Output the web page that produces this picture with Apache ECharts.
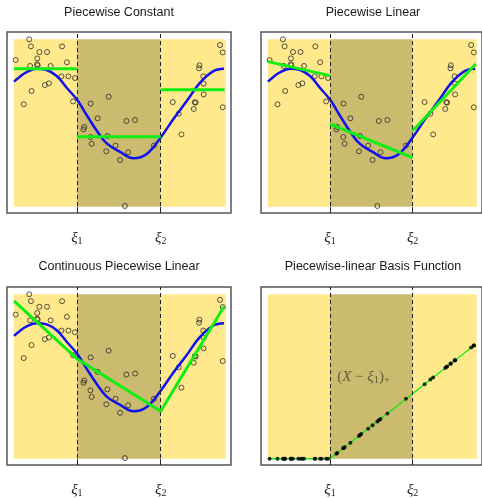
<!DOCTYPE html>
<html>
<head>
<meta charset="utf-8">
<script src="https://cdn.jsdelivr.net/npm/echarts@6/dist/echarts.min.js"></script>
<style>
  html, body { margin: 0; padding: 0; background: #ffffff; }
  #chart { width: 482px; height: 498px; }
</style>
</head>
<body>
<div id="chart"></div>
<script>
// ---------------- data ----------------
const titles = ['Piecewise Constant', 'Piecewise Linear', 'Continuous Piecewise Linear', 'Piecewise-linear Basis Function'];
const knots = [0.297, 0.693];
const knotSubscripts = ['1', '2'];

const pointX = [0.072, 0.080, 0.008, 0.120, 0.156, 0.227, 0.110, 0.109, 0.112, 0.076,
                0.173, 0.250, 0.224, 0.257, 0.288, 0.146, 0.165, 0.083, 0.046, 0.279,
                0.362, 0.447, 0.395, 0.332, 0.328, 0.361, 0.367, 0.441, 0.480, 0.436,
                0.501, 0.539, 0.531, 0.572, 0.524, 0.661, 0.750, 0.778, 0.791, 0.854,
                0.858, 0.849, 0.876, 0.874, 0.894, 0.896, 0.896, 0.973, 0.986, 0.986];
const pointY = [1.000, 0.958, 0.876, 0.924, 0.924, 0.958, 0.886, 0.851, 0.845, 0.841,
                0.841, 0.863, 0.779, 0.779, 0.769, 0.727, 0.737, 0.691, 0.612, 0.629,
                0.616, 0.657, 0.528, 0.476, 0.462, 0.416, 0.376, 0.422, 0.365, 0.331,
                0.279, 0.325, 0.512, 0.518, 0.004, 0.365, 0.625, 0.556, 0.432, 0.624,
                0.622, 0.584, 0.845, 0.827, 0.779, 0.735, 0.671, 0.966, 0.922, 0.594];
// values of the basis function (X - xi1)+ at each point
const basisY = [0, 0, 0, 0, 0, 0, 0, 0, 0, 0,
                0, 0, 0, 0, 0, 0, 0, 0, 0, 0,
                0.065, 0.150, 0.098, 0.035, 0.031, 0.064, 0.070, 0.144, 0.183, 0.139,
                0.204, 0.242, 0.234, 0.275, 0.227, 0.364, 0.453, 0.481, 0.494, 0.557,
                0.561, 0.552, 0.579, 0.577, 0.597, 0.599, 0.599, 0.676, 0.689, 0.689];

// true (blue) curve
const trueX = [0, 0.028, 0.060, 0.107, 0.154, 0.202, 0.249, 0.299, 0.343, 0.391,
               0.438, 0.501, 0.564, 0.627, 0.693, 0.753, 0.816, 0.879, 0.942, 0.992];
const trueY = [0.747, 0.777, 0.804, 0.824, 0.817, 0.781, 0.711, 0.637, 0.548, 0.454,
               0.378, 0.327, 0.289, 0.315, 0.414, 0.524, 0.631, 0.741, 0.810, 0.824];

// fitted (green) pieces
const rangeX = [0, 0.297, 0.693, 0.995];
const constLevels = [0.824, 0.418, 0.699];
const linearStart = [0.867, 0.494, 0.454];
const linearEnd = [0.783, 0.293, 0.853];
const contX = [0, 0.297, 0.693, 0.992];
const contY = [0.960, 0.608, 0.289, 0.926];
const basisLineX = [0, 0.297, 0.986];
const basisLineY = [0, 0, 0.689];

const annotation = { x: 0.458, y: 0.494 };

// ---------------- styling ----------------
const LIGHT = '#FFE98C';
const DARK = '#CBBB6E';
const BLUE = '#1010F0';
const GREEN = '#11EE11';
const zip = (xs, ys) => xs.map((x, i) => [x, ys[i]]);

const grids = [
  { left: 7, top: 32, width: 224, height: 181 },
  { left: 261, top: 32, width: 224, height: 181 },
  { left: 7, top: 287, width: 224, height: 181 },
  { left: 261, top: 287, width: 224, height: 181 }
].map(g => Object.assign(g, { show: true, borderColor: '#555', borderWidth: 1.5, backgroundColor: 'transparent' }));

const xAxes = grids.map((g, i) => ({
  type: 'value', gridIndex: i, min: -0.033, max: 1.025,
  splitLine: { show: false },
  axisLine: { show: false },
  axisTick: { show: true, customValues: knots, length: 5, inside: false, lineStyle: { color: '#333', width: 1 } },
  axisLabel: {
    show: true, customValues: knots, margin: 17,
    formatter: v => '{x|ξ}{s|' + knotSubscripts[Math.abs(v - knots[0]) < 0.01 ? 0 : 1] + '}',
    rich: {
      x: { fontFamily: '"Liberation Serif", "DejaVu Serif", serif', fontStyle: 'italic', fontSize: 15, color: '#222', lineHeight: 16, verticalAlign: 'middle' },
      s: { fontFamily: '"Liberation Serif", "DejaVu Serif", serif', fontSize: 10, color: '#222', lineHeight: 10, verticalAlign: 'bottom' }
    }
  }
}));
const yAxes = grids.map((g, i) => ({
  type: 'value', gridIndex: i, min: -0.038, max: 1.044, show: false, splitLine: { show: false }
}));

const series = [];
grids.forEach((g, i) => {
  series.push({
    type: 'line', xAxisIndex: i, yAxisIndex: i, data: [], z: 1, silent: true,
    markArea: {
      silent: true,
      data: [
        [{ xAxis: 0, yAxis: 0, itemStyle: { color: LIGHT, opacity: 1 } }, { xAxis: knots[0], yAxis: 1 }],
        [{ xAxis: knots[0], yAxis: 0, itemStyle: { color: DARK, opacity: 1 } }, { xAxis: knots[1], yAxis: 1 }],
        [{ xAxis: knots[1], yAxis: 0, itemStyle: { color: LIGHT, opacity: 1 } }, { xAxis: 1, yAxis: 1 }]
      ]
    }
  });
  series.push({
    type: 'line', xAxisIndex: i, yAxisIndex: i, data: [], z: 2, silent: true,
    markLine: {
      silent: true, symbol: ['none', 'none'], label: { show: false },
      lineStyle: { color: '#222', width: 1, type: [4, 3] },
      data: knots.map(k => ({ xAxis: k }))
    }
  });
});

// panels 1-3: data points + true curve
[0, 1, 2].forEach(i => {
  series.push({
    type: 'scatter', xAxisIndex: i, yAxisIndex: i, z: 3, symbol: 'circle', symbolSize: 5,
    itemStyle: { color: 'rgba(0,0,0,0)', borderColor: '#2a2a2a', borderWidth: 1 },
    data: zip(pointX, pointY)
  });
  series.push({
    type: 'line', xAxisIndex: i, yAxisIndex: i, z: 4, smooth: 0.4, showSymbol: false,
    lineStyle: { color: BLUE, width: 2.5 },
    data: zip(trueX, trueY)
  });
});

// panel 1: piecewise constant
constLevels.forEach((c, j) => {
  series.push({
    type: 'line', xAxisIndex: 0, yAxisIndex: 0, z: 5, showSymbol: false,
    lineStyle: { color: GREEN, width: 3 },
    data: [[rangeX[j], c], [rangeX[j + 1], c]]
  });
});
// panel 2: piecewise linear
linearStart.forEach((a, j) => {
  series.push({
    type: 'line', xAxisIndex: 1, yAxisIndex: 1, z: 5, showSymbol: false,
    lineStyle: { color: GREEN, width: 3 },
    data: [[rangeX[j], a], [rangeX[j + 1], linearEnd[j]]]
  });
});
// panel 3: continuous piecewise linear
series.push({
  type: 'line', xAxisIndex: 2, yAxisIndex: 2, z: 5, showSymbol: false,
  lineStyle: { color: GREEN, width: 3 },
  data: zip(contX, contY)
});
// panel 4: basis function
series.push({
  type: 'line', xAxisIndex: 3, yAxisIndex: 3, z: 4, showSymbol: false,
  lineStyle: { color: GREEN, width: 1.3 },
  data: zip(basisLineX, basisLineY)
});
series.push({
  type: 'scatter', xAxisIndex: 3, yAxisIndex: 3, z: 5, symbol: 'circle', symbolSize: 4,
  itemStyle: { color: '#000' },
  data: zip(pointX, basisY)
});
series.push({
  type: 'scatter', xAxisIndex: 3, yAxisIndex: 3, z: 6, symbolSize: 0, silent: true,
  data: [[annotation.x, annotation.y]],
  label: {
    show: true, position: 'inside',
    formatter: '{p|(}{i|X}{p| − }{i|ξ}{s|1}{p|)}{s|+}',
    rich: {
      p: { fontFamily: '"Liberation Serif", "DejaVu Serif", serif', fontSize: 15, color: '#4a4530', lineHeight: 17, verticalAlign: 'middle' },
      i: { fontFamily: '"Liberation Serif", "DejaVu Serif", serif', fontStyle: 'italic', fontSize: 15, color: '#4a4530', lineHeight: 17, verticalAlign: 'middle' },
      s: { fontFamily: '"Liberation Serif", "DejaVu Serif", serif', fontSize: 10.5, color: '#4a4530', lineHeight: 10, verticalAlign: 'bottom' }
    }
  }
});

const titleCenters = [[119, 12.5], [373, 12.5], [119, 267], [373, 267]];
const graphic = titles.map((t, i) => ({
  type: 'text', x: titleCenters[i][0], y: titleCenters[i][1], silent: true,
  style: { text: t, font: '12.5px "Liberation Sans", Arial, sans-serif', fill: '#1a1a1a', align: 'center', verticalAlign: 'middle' }
}));

const chart = echarts.init(document.getElementById('chart'), null, { renderer: 'canvas' });
chart.setOption({
  animation: false,
  backgroundColor: '#ffffff',
  grid: grids,
  xAxis: xAxes,
  yAxis: yAxes,
  series: series,
  graphic: graphic
});
</script>
</body>
</html>
